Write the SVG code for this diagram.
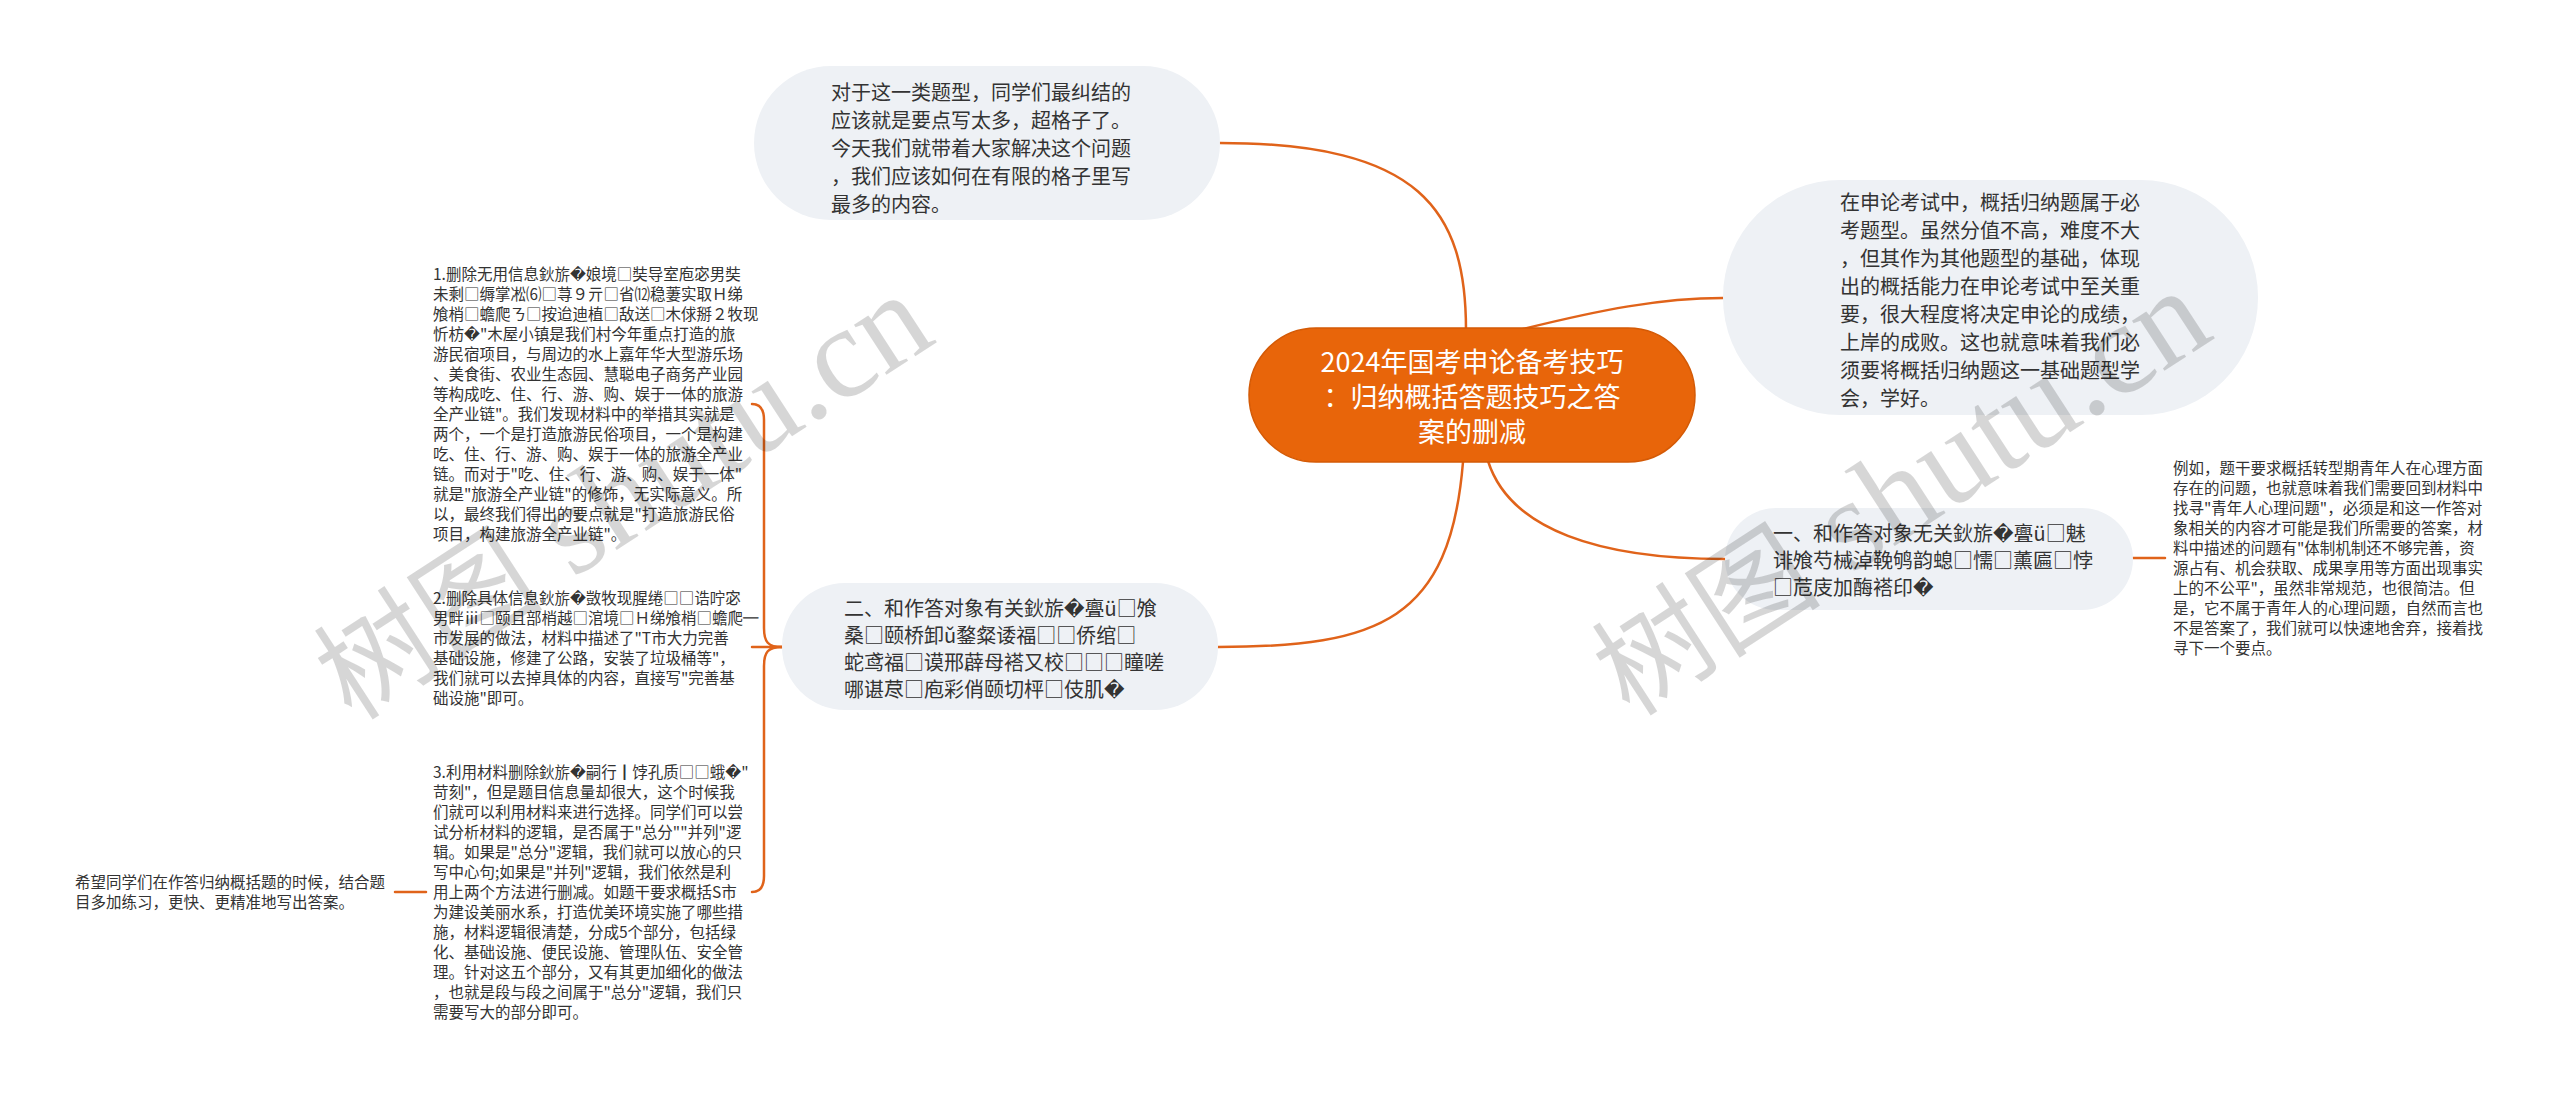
<svg xmlns="http://www.w3.org/2000/svg" width="2560" height="1097" viewBox="0 0 2560 1097">
<style>
.bg{fill:#ffffff}
.pill{fill:#EEF1F5}
.root{fill:#E8650A;stroke:#D45A06;stroke-width:1.5}
.t{font-family:"Noto Sans CJK SC","Microsoft YaHei","DejaVu Sans",sans-serif;fill:#333333}
.t20{font-size:20px}
.t15{font-size:15.5px}
.rt{font-family:"Noto Sans CJK SC","Microsoft YaHei",sans-serif;font-size:27px;fill:#ffffff;text-anchor:middle}
.c{fill:none;stroke:#E0631A;stroke-width:2.5;stroke-linecap:round}
.wm{font-family:"Liberation Serif","Noto Sans CJK SC",serif;fill:#000000;fill-opacity:0.16}
</style>
<rect class="bg" x="0" y="0" width="2560" height="1097"/>
<g id="connectors">
<path class="c" d="M1466,330 C1466,210 1420,143 1220,143"/>
<path class="c" d="M1523,329 C1600,310 1660,298 1723,298"/>
<path class="c" d="M1488,461 C1510,530 1600,559 1725,559"/>
<path class="c" d="M1463,462 C1450,620 1380,647 1218,647"/>
<path class="c" d="M2133,558 L2165,558"/>
<path class="c" d="M782,647 L752,647"/>
<path class="c" d="M782,647 C768,647 764,642 764,628 L764,420 Q764,404 752,404"/>
<path class="c" d="M782,647 C768,647 764,652 764,666 L764,876 Q764,892 752,892"/>
<path class="c" d="M426,892 L395,892"/>
</g>
<g id="root">
<rect class="root" x="1249" y="328" width="446" height="134" rx="67"/>
<text class="rt"><tspan x="1472" y="372">2024年国考申论备考技巧</tspan><tspan x="1472" y="407">：归纳概括答题技巧之答</tspan><tspan x="1472" y="442">案的删减</tspan></text>
</g>
<g id="n-intro">
<rect class="pill" x="754" y="66" width="466" height="154" rx="77"/>
<text class="t t20"><tspan x="831" y="99.6">对于这一类题型，同学们最纠结的</tspan><tspan x="831" y="127.6">应该就是要点写太多，超格子了。</tspan><tspan x="831" y="155.6">今天我们就带着大家解决这个问题</tspan><tspan x="831" y="183.6">，我们应该如何在有限的格子里写</tspan><tspan x="831" y="211.6">最多的内容。</tspan></text>
</g>
<g id="n-background">
<rect class="pill" x="1723" y="180" width="535" height="235" rx="117"/>
<text class="t t20"><tspan x="1840" y="210">在申论考试中，概括归纳题属于必</tspan><tspan x="1840" y="238">考题型。虽然分值不高，难度不大</tspan><tspan x="1840" y="266">，但其作为其他题型的基础，体现</tspan><tspan x="1840" y="294">出的概括能力在申论考试中至关重</tspan><tspan x="1840" y="322">要，很大程度将决定申论的成绩，</tspan><tspan x="1840" y="350">上岸的成败。这也就意味着我们必</tspan><tspan x="1840" y="378">须要将概括归纳题这一基础题型学</tspan><tspan x="1840" y="406">会，学好。</tspan></text>
</g>
<g id="n-one">
<rect class="pill" x="1725" y="508" width="408" height="102" rx="51"/>
<text class="t t20"><tspan x="1773" y="540.6">一、和作答对象无关鈥旂�亹ü□魅</tspan><tspan x="1773" y="567.6">诽飧芍械淖鞔鸲韵螅□懦□薰匾□悖</tspan><tspan x="1773" y="594.6">□苊庋加酶褡印�</tspan></text>
</g>
<g id="n-one-detail">
<text class="t t15"><tspan x="2173" y="474">例如，题干要求概括转型期青年人在心理方面</tspan><tspan x="2173" y="494">存在的问题，也就意味着我们需要回到材料中</tspan><tspan x="2173" y="514">找寻"青年人心理问题"，必须是和这一作答对</tspan><tspan x="2173" y="534">象相关的内容才可能是我们所需要的答案，材</tspan><tspan x="2173" y="554">料中描述的问题有"体制机制还不够完善，资</tspan><tspan x="2173" y="574">源占有、机会获取、成果享用等方面出现事实</tspan><tspan x="2173" y="594">上的不公平"，虽然非常规范，也很简洁。但</tspan><tspan x="2173" y="614">是，它不属于青年人的心理问题，自然而言也</tspan><tspan x="2173" y="634">不是答案了，我们就可以快速地舍弃，接着找</tspan><tspan x="2173" y="654">寻下一个要点。</tspan></text>
</g>
<g id="n-two">
<rect class="pill" x="782" y="583" width="436" height="127" rx="63"/>
<text class="t t20"><tspan x="844" y="615.6">二、和作答对象有关鈥旂�亹ü□飧</tspan><tspan x="844" y="642.6">桑□颐桥卸ǔ鍪粲诿福□□侨绾□</tspan><tspan x="844" y="669.6">蛇鸢福□谟邢薜母褡又校□□□瞳嗟</tspan><tspan x="844" y="696.6">哪谌荩□庖彩俏颐切枰□伎肌�</tspan></text>
</g>
<g id="n-two-1">
<text class="t t15"><tspan x="433" y="280">1.删除无用信息鈥旂�娘境□奘导室庖宓男奘</tspan><tspan x="433" y="300">未剩□缛掌凇⑹□荨９亓□省⑿稳萋实取Ｈ绨</tspan><tspan x="433" y="320">飧梢□蟾爬ㄋ□按迨迪植□敌送□木俅掰２牧现</tspan><tspan x="433" y="340">忻枋�"木屋小镇是我们村今年重点打造的旅</tspan><tspan x="433" y="360">游民宿项目，与周边的水上嘉年华大型游乐场</tspan><tspan x="433" y="380">、美食街、农业生态园、慧聪电子商务产业园</tspan><tspan x="433" y="400">等构成吃、住、行、游、购、娱于一体的旅游</tspan><tspan x="433" y="420">全产业链"。我们发现材料中的举措其实就是</tspan><tspan x="433" y="440">两个，一个是打造旅游民俗项目，一个是构建</tspan><tspan x="433" y="460">吃、住、行、游、购、娱于一体的旅游全产业</tspan><tspan x="433" y="480">链。而对于"吃、住、行、游、购、娱于一体"</tspan><tspan x="433" y="500">就是"旅游全产业链"的修饰，无实际意义。所</tspan><tspan x="433" y="520">以，最终我们得出的要点就是"打造旅游民俗</tspan><tspan x="433" y="540">项目，构建旅游全产业链"。</tspan></text>
</g>
<g id="n-two-2">
<text class="t t15"><tspan x="433" y="604">2.删除具体信息鈥旂�敳牧现腥绻□□诰咛宓</tspan><tspan x="433" y="624">男畔ⅲ□颐且部梢越□涫境□Ｈ绨飧梢□蟾爬═</tspan><tspan x="433" y="644">市发展的做法，材料中描述了"T市大力完善</tspan><tspan x="433" y="664">基础设施，修建了公路，安装了垃圾桶等"，</tspan><tspan x="433" y="684">我们就可以去掉具体的内容，直接写"完善基</tspan><tspan x="433" y="704">础设施"即可。</tspan></text>
</g>
<g id="n-two-3">
<text class="t t15"><tspan x="433" y="778">3.利用材料删除鈥旂�嗣行┃饽孔质□□蛾�"</tspan><tspan x="433" y="798">苛刻"，但是题目信息量却很大，这个时候我</tspan><tspan x="433" y="818">们就可以利用材料来进行选择。同学们可以尝</tspan><tspan x="433" y="838">试分析材料的逻辑，是否属于"总分""并列"逻</tspan><tspan x="433" y="858">辑。如果是"总分"逻辑，我们就可以放心的只</tspan><tspan x="433" y="878">写中心句;如果是"并列"逻辑，我们依然是利</tspan><tspan x="433" y="898">用上两个方法进行删减。如题干要求概括S市</tspan><tspan x="433" y="918">为建设美丽水系，打造优美环境实施了哪些措</tspan><tspan x="433" y="938">施，材料逻辑很清楚，分成5个部分，包括绿</tspan><tspan x="433" y="958">化、基础设施、便民设施、管理队伍、安全管</tspan><tspan x="433" y="978">理。针对这五个部分，又有其更加细化的做法</tspan><tspan x="433" y="998">，也就是段与段之间属于"总分"逻辑，我们只</tspan><tspan x="433" y="1018">需要写大的部分即可。</tspan></text>
</g>
<g id="n-two-3-1">
<text class="t t15"><tspan x="75" y="888">希望同学们在作答归纳概括题的时候，结合题</tspan><tspan x="75" y="908">目多加练习，更快、更精准地写出答案。</tspan></text>
</g>
<g id="watermark">
<text class="wm" transform="translate(352,722) rotate(-33)"><tspan font-size="115">树图</tspan><tspan font-size="130"> shutu.cn</tspan></text>
<text class="wm" transform="translate(1630,718) rotate(-33)"><tspan font-size="115">树图</tspan><tspan font-size="130"> shutu.cn</tspan></text>
</g>
</svg>
